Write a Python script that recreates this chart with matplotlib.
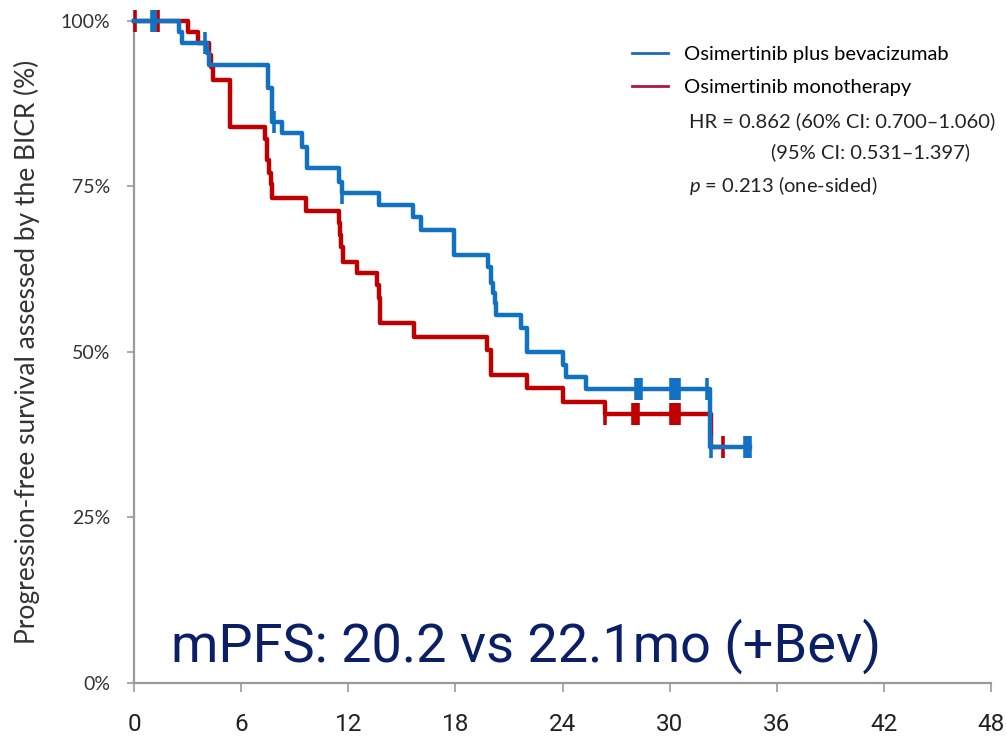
import numpy as np
import matplotlib.pyplot as plt
from matplotlib.lines import Line2D

plt.rcParams['font.family'] = ['Lato', 'DejaVu Sans']
plt.rcParams['mathtext.fontset'] = 'custom'
plt.rcParams['mathtext.it'] = 'Lato:italic'
plt.rcParams['mathtext.rm'] = 'Lato'

# Osimertinib plus bevacizumab (KM steps, months / %)
bev_t = [0, 2.5, 2.7, 4.1, 4.2, 7.5, 7.75, 8.3, 9.4, 9.7, 11.5, 11.65, 13.7,
         15.6, 16.1, 17.9, 19.85, 20.0, 20.1, 20.2, 20.25, 21.7, 22.0, 24.05,
         24.2, 25.3, 32.25]
bev_s = [100, 98.3, 96.6, 95.1, 93.4, 89.9, 84.7, 83.1, 81.0, 77.8, 75.7, 74.0,
         72.2, 70.4, 68.4, 64.7, 62.9, 60.4, 58.9, 57.4, 55.6, 53.6, 50.0, 48.0,
         46.2, 44.4, 35.6]
bev_end = 34.5
bev_cens = [1.0, 1.2, 4.0, 7.85, 11.65, 28.1, 28.2, 28.3, 28.4,
            30.1, 30.2, 30.3, 30.4, 30.5, 32.1, 32.3, 34.2, 34.3, 34.4, 34.5]

# Osimertinib monotherapy
mono_t = [0, 3.0, 3.6, 4.2, 4.3, 4.4, 5.4, 7.35, 7.45, 7.55, 7.65, 7.75, 9.65,
          11.5, 11.55, 11.6, 11.7, 12.5, 13.6, 13.7, 13.75, 13.8, 15.7, 19.75,
          20.0, 22.0, 24.05, 26.35, 32.3]
mono_s = [100, 98.3, 96.6, 94.9, 93.0, 91.1, 84.0, 82.1, 79.0, 77.0, 75.3, 73.3,
          71.3, 69.5, 67.7, 65.9, 63.6, 61.9, 60.1, 58.2, 56.3, 54.4, 52.3, 50.3,
          46.5, 44.6, 42.4, 40.6, 35.6]
mono_end = 33.0
mono_cens = [0.06, 1.34, 26.4, 27.95, 28.05, 28.15, 28.25,
             30.1, 30.2, 30.3, 30.4, 30.5, 33.0]

xticks = [0, 6, 12, 18, 24, 30, 36, 42, 48]
yticks = [0, 25, 50, 75, 100]
ylabels = ['0%', '25%', '50%', '75%', '100%']

blue = '#1172C4'
red = '#C00000'


def surv_at(times, surv, t):
    idx = np.searchsorted(times, t, side='right') - 1
    return np.asarray(surv)[idx]


fig = plt.figure(figsize=(10.06, 7.46), dpi=100)
ax = fig.add_axes([0.1332, 0.0845, 0.852, 0.8874])

for t, s, end, cens, col in [(mono_t, mono_s, mono_end, mono_cens, red),
                             (bev_t, bev_s, bev_end, bev_cens, blue)]:
    tt = list(t) + [end]
    ss = list(s) + [s[-1]]
    ax.step(tt, ss, where='post', color=col, lw=3.2, clip_on=False, zorder=3)
    ax.plot(cens, surv_at(t, s, cens), ls='none', marker='|', ms=16,
            mew=2.6, color=col, clip_on=False, zorder=3)

ax.set_xlim(0, 48)
ax.set_ylim(0, 100)
ax.set_xticks(xticks)
ax.set_xticklabels([str(v) for v in xticks], family='Roboto',
                   fontsize=17.5, color='#222222')
ax.set_yticks(yticks)
ax.set_yticklabels(ylabels, fontsize=14, color='#333333')
for sp in ['top', 'right']:
    ax.spines[sp].set_visible(False)
for sp in ['left', 'bottom']:
    ax.spines[sp].set_color('#9A9A9A')
    ax.spines[sp].set_linewidth(1.6)
ax.tick_params(axis='x', length=6.5, width=1.2, color='#9A9A9A', pad=15)
ax.tick_params(axis='y', length=5, width=1.2, color='#9A9A9A', pad=12)

ax.set_ylabel('Progression-free survival assessed by the BICR (%)',
              fontsize=19, color='#333333', labelpad=15)

handles = [Line2D([], [], color='#1F6BB5', lw=2),
           Line2D([], [], color='#B0163A', lw=2)]
ax.legend(handles, ['Osimertinib plus bevacizumab', 'Osimertinib monotherapy'],
          loc='upper left', bbox_to_anchor=(0.56, 0.99), frameon=False,
          fontsize=14.5, handlelength=1.8, handletextpad=0.8, labelspacing=0.8)

ax.text(0.647, 0.849, 'HR = 0.862 (60% CI: 0.700\u20131.060)', transform=ax.transAxes,
        fontsize=14.5, color='#222222', va='center')
ax.text(0.743, 0.802, '(95% CI: 0.531\u20131.397)', transform=ax.transAxes,
        fontsize=14.5, color='#222222', va='center')
ax.text(0.647, 0.752, '$p$ = 0.213 (one-sided)', transform=ax.transAxes,
        fontsize=14.5, color='#222222', va='center')

ax.text(0.043, 0.055, 'mPFS: 20.2 vs 22.1mo (+Bev)', transform=ax.transAxes,
        family='Roboto', fontsize=39, color='#0B1F66', va='center')

fig.savefig('out.png', dpi=100)
